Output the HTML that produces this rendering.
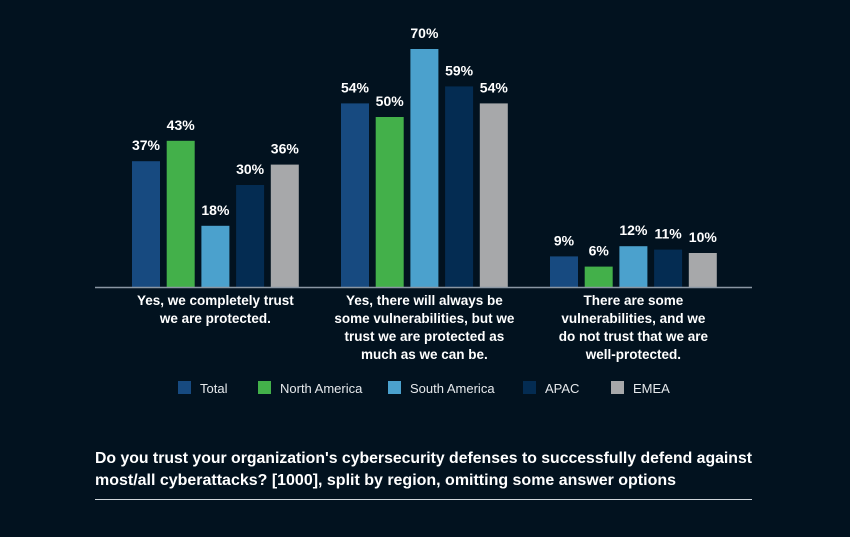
<!DOCTYPE html>
<html><head><meta charset="utf-8"><style>
body{margin:0;background:#02121f;width:850px;height:532px;overflow:hidden;font-family:"Liberation Sans",sans-serif}
</style></head><body>
<svg width="850" height="532">
<g id="bars"></g>
<line x1="95" x2="752" y1="287.5" y2="287.5" stroke="#8a96a3" stroke-width="1.5"/>
<g id="cats" fill="#ffffff" font-size="13.5" font-weight="bold" text-anchor="middle"></g>
<g id="legend" font-size="13" fill="#e6e9ec"></g>
<text x="95" y="463" fill="#ffffff" font-size="15.5" font-weight="bold" textLength="657" lengthAdjust="spacingAndGlyphs">Do you trust your organization's cybersecurity defenses to successfully defend against</text>
<text x="95" y="485" fill="#ffffff" font-size="15.5" font-weight="bold" textLength="581" lengthAdjust="spacingAndGlyphs">most/all cyberattacks? [1000], split by region, omitting some answer options</text>
<line x1="95" x2="752" y1="499.5" y2="499.5" stroke="#cfd5da" stroke-width="1"/>
</svg>
<script>
const categories=[["Yes, we completely trust","we are protected."],["Yes, there will always be","some vulnerabilities, but we","trust we are protected as","much as we can be."],["There are some","vulnerabilities, and we","do not trust that we are","well-protected."]];
const seriesNames=["Total","North America","South America","APAC","EMEA"];
const seriesColors=["#174a80","#43b04a","#4ba1cd","#042c52","#a7a8aa"];
const total=[37,54,9];
const northAmerica=[43,50,6];
const southAmerica=[18,70,12];
const apac=[30,59,11];
const emea=[36,54,10];
const series=[total,northAmerica,southAmerica,apac,emea];
const NS="http://www.w3.org/2000/svg";
const base=287, pxPer=3.4, g0=132, gStep=209, bStep=34.7, bw=28;
const y=v=>base-v*pxPer;
const bars=document.getElementById('bars');
series.forEach((s,si)=>s.forEach((v,ci)=>{
 const x=g0+ci*gStep+si*bStep;
 const r=document.createElementNS(NS,'rect');
 r.setAttribute('x',x);r.setAttribute('y',y(v));r.setAttribute('width',bw);r.setAttribute('height',base-y(v));r.setAttribute('fill',seriesColors[si]);
 
 
 bars.appendChild(r);
 const t=document.createElementNS(NS,'text');
 t.setAttribute('x',x+bw/2);t.setAttribute('y',y(v)-11);t.setAttribute('fill','#fff');t.setAttribute('font-size','14');t.setAttribute('font-weight','bold');t.setAttribute('text-anchor','middle');
 t.textContent=v+'%';
 
 
 bars.appendChild(t);
}));
const cats=document.getElementById('cats');
categories.forEach((lines,ci)=>{
 const cx=g0+ci*gStep+2*bStep+bw/2;
 lines.forEach((l,li)=>{
  const t=document.createElementNS(NS,'text');
  t.setAttribute('x',cx);t.setAttribute('y',305+li*18);t.textContent=l;
  
  
  cats.appendChild(t);
 });
});
const leg=document.getElementById('legend');
const legX=[178,258,388,523,611];
seriesNames.forEach((n,i)=>{
 const g=document.createElementNS(NS,'g');
 
 
 g.innerHTML=`<rect x="${legX[i]}" y="381" width="13" height="13" fill="${seriesColors[i]}"/><text x="${legX[i]+22}" y="393">${n}</text>`;
 leg.appendChild(g);
});
</script>
</body></html>
